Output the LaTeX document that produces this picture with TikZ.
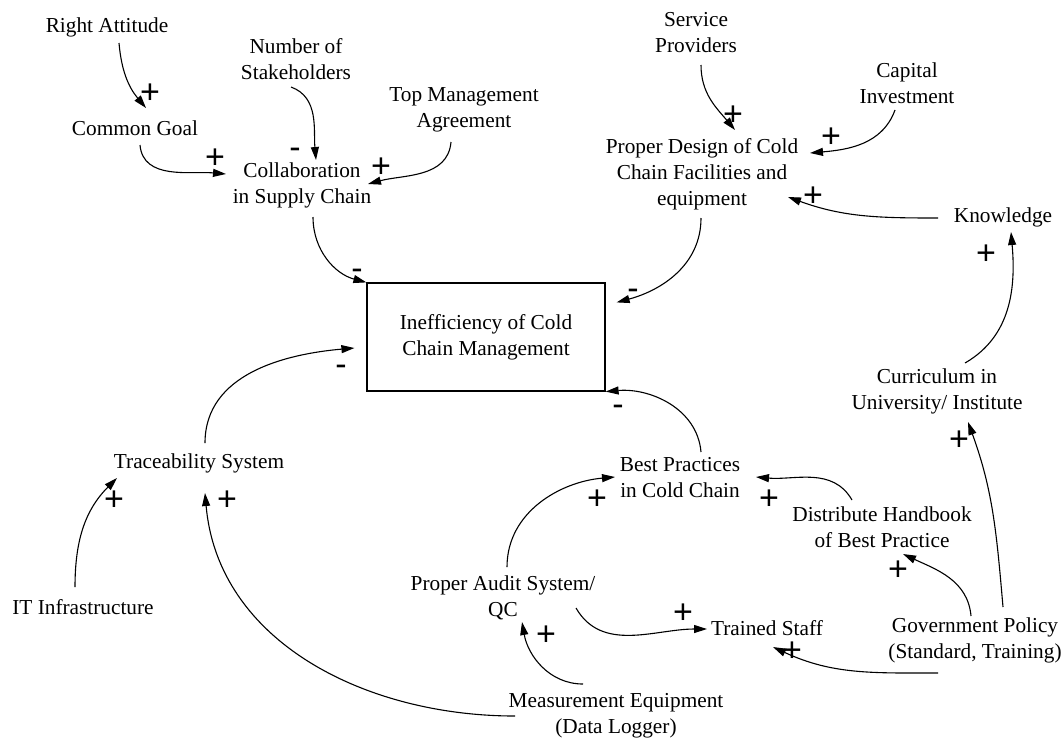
\documentclass[tikz,border=0pt]{standalone}
\usepackage{fontspec}
\setmainfont{Liberation Serif}
\newfontfamily\varfont{Liberation Serif}
\newfontfamily\signfont{Liberation Sans}
\usetikzlibrary{arrows.meta,calc}

\begin{document}
\begin{tikzpicture}[x=0.5pt,y=0.5pt,
  var/.style={align=center,inner sep=0pt,font=\varfont\fontsize{10.65}{13}\selectfont},
  level/.style={var,draw,line width=0.6pt,minimum width=119pt,minimum height=54pt},
  link/.style={line width=0.55pt,-{Triangle[length=6.5pt,width=4pt]}},
  sgn/.style={inner sep=0pt,font=\signfont\fontsize{17}{17}\selectfont},
  plussign/.style={sgn,text height=10pt,text depth=0pt},
  minussign/.style={sgn},
]
\useasboundingbox (0,0) rectangle (1063,-740);

% variables
\node[var] (RA)  at (107,-27)  {Right Attitude};
\node[var] (CG)  at (135,-128) {Common Goal};
\node[var] (NS)  at (296,-59)  {Number of\\Stakeholders};
\node[var] (TM)  at (464,-110) {Top Management\\Agreement};
\node[var] (CSC) at (302,-185) {Collaboration\\in Supply Chain};
\node[var] (SP)  at (696,-33)  {Service\\Providers};
\node[var] (CI)  at (907,-83)  {Capital\\Investment};
\node[var] (PD)  at (702,-174) {Proper Design of Cold\\Chain Facilities and\\equipment};
\node[var] (KN)  at (1003,-217) {Knowledge};
\node[level] (IB) at (486,-337) {Inefficiency of Cold\\Chain Management};
\node[var] (CU)  at (937,-391) {Curriculum in\\University/ Institute};
\node[var] (TS)  at (199,-463) {Traceability System};
\node[var] (BP)  at (680,-478) {Best Practices\\in Cold Chain};
\node[var] (DH)  at (882,-527) {Distribute Handbook\\of Best Practice};
\node[var] (IT)  at (83,-607)  {IT Infrastructure};
\node[var] (PA)  at (503,-598) {Proper Audit System/\\QC};
\node[var] (TSf) at (767,-628) {Trained Staff};
\node[var] (GP)  at (975,-640) {Government Policy\\(Standard, Training)};
\node[var] (ME)  at (616,-716) {Measurement Equipment\\(Data Logger)};

% causal links
\draw[link] ($(RA)+(12,-16)$)   to[out=-85,in=130]  ($(CG)+(11,20)$);
\draw[link] ($(CG)+(5,-17)$)    to[out=-85,in=175]  ($(CSC)+(-76,11)$);
\draw[link] ($(NS)+(-5,-28)$)   to[out=-20,in=95]   ($(CSC)+(14,25)$);
\draw[link] ($(TM)+(-13,-32)$)  to[out=-95,in=15]   ($(CSC)+(66,1)$);
\draw[link] ($(CSC)+(11,-32)$)  to[out=-90,in=165]  (IB.north west);
\draw[link] ($(SP)+(5,-32)$)    to[out=-90,in=130]  ($(PD)+(33,44)$);
\draw[link] ($(CI)+(-12,-27)$)  to[out=-110,in=5]   ($(PD)+(108,21)$);
\draw[link] ($(KN)+(-65,-1)$)   to[out=180,in=-20]  ($(PD)+(86,-23)$);
\draw[link] ($(PD)+(-1,-44)$)   to[out=-90,in=15]   ($(IB.north east)+(11,-20)$);
\draw[link] ($(CU)+(28,28)$)    to[out=30,in=-85]   ($(KN)+(8,-15)$);
\draw[link] ($(TS)+(6,20)$)     to[out=90,in=185]   ($(IB.west)+(-12,-11)$);
\draw[link] ($(BP)+(21,26)$)    to[out=95,in=5]     (IB.south east);
\draw[link] ($(IT)+(-8,20)$)    to[out=90,in=-135]  ($(TS)+(-82,-15)$);
\draw[link] ($(ME)+(-101,0)$)   to[out=180,in=-85]  ($(TS)+(6,-30)$);
\draw[link] ($(PA)+(4,31)$)     to[out=90,in=185]   ($(BP)+(-65,1)$);
\draw[link] ($(DH)+(-30,27)$)   to[out=120,in=-5]   ($(BP)+(76,1)$);
\draw[link] ($(PA)+(73,-10)$)   to[out=-60,in=180]  ($(TSf)+(-60,-1)$);
\draw[link] ($(ME)+(-33,32)$)   to[out=180,in=-80]  ($(PA)+(19,-24)$);
\draw[link] ($(GP)+(-4,24)$)    to[out=95,in=-25]   ($(DH)+(21,-27)$);
\draw[link] ($(GP)+(28,33)$)    to[out=95,in=-70]   ($(CU)+(31,-31)$);
\draw[link] ($(GP)+(-37,-33)$)  to[out=180,in=-25]  ($(TSf)+(6,-19)$);

% polarity signs
\node[plussign]  (p1)  at (150,-93)  {+};
\node[plussign]  (p2)  at (215,-158) {+};
\node[minussign] (m3)  at (295,-153) {-};
\node[plussign]  (p4)  at (381,-167) {+};
\node[minussign] (m5)  at (357,-274) {-};
\node[plussign]  (p6)  at (733,-115) {+};
\node[plussign]  (p7)  at (831,-137) {+};
\node[plussign]  (p8)  at (813,-196) {+};
\node[minussign] (m9)  at (633,-294) {-};
\node[plussign]  (p10) at (986,-254) {+};
\node[minussign] (m11) at (341,-370) {-};
\node[minussign] (m12) at (618,-410) {-};
\node[plussign]  (p13) at (114,-500) {+};
\node[plussign]  (p14) at (227,-500) {+};
\node[plussign]  (p15) at (597,-499) {+};
\node[plussign]  (p16) at (769,-499) {+};
\node[plussign]  (p17) at (683,-613) {+};
\node[plussign]  (p18) at (546,-635) {+};
\node[plussign]  (p19) at (898,-570) {+};
\node[plussign]  (p20) at (959,-440) {+};
\node[plussign]  (p21) at (792,-651) {+};
\end{tikzpicture}
\end{document}
